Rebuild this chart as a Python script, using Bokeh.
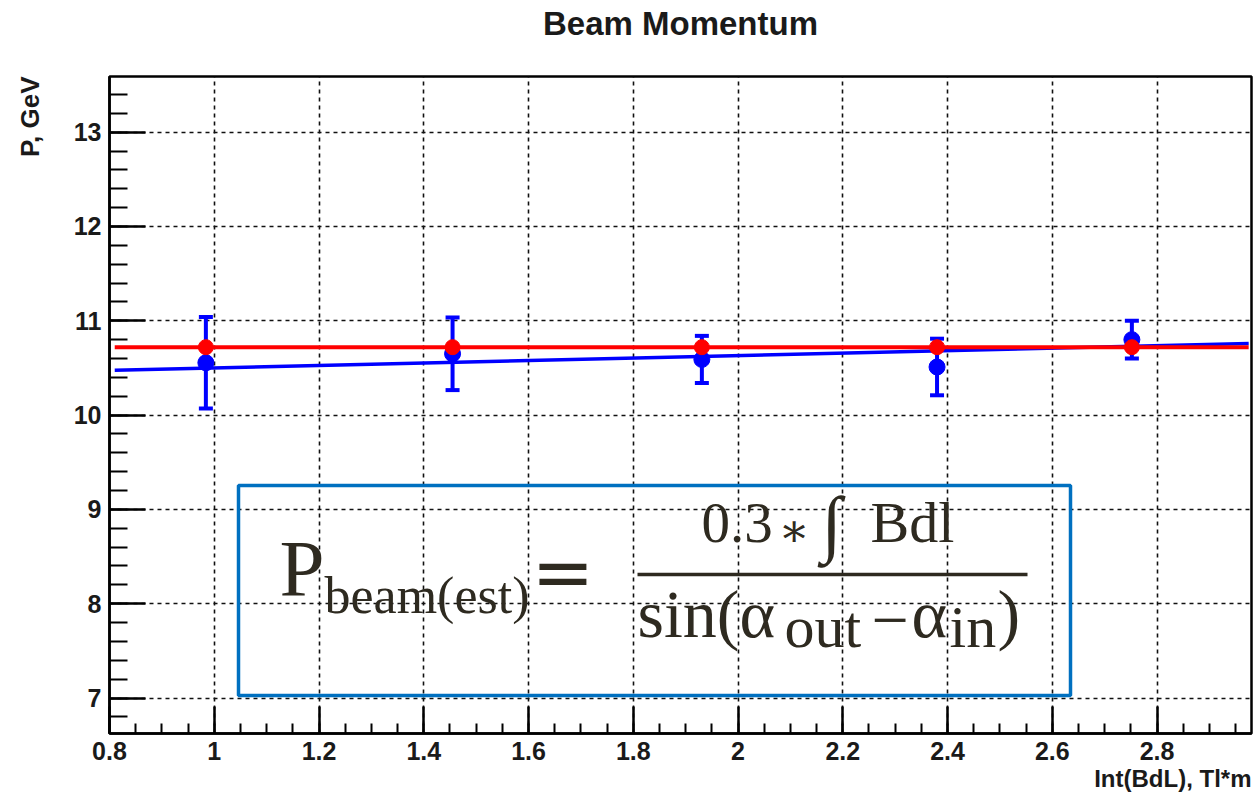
import math
from bokeh.plotting import figure
from bokeh.models import (ColumnDataSource, Label, SingleIntervalTicker, Title,
                          CustomJSTickFormatter, Range1d, BoxAnnotation)
from bokeh.embed import file_html
from bokeh.resources import INLINE

# ---------------- data ----------------
int_bdl = [0.984, 1.455, 1.931, 2.380, 2.752]            # Int(BdL), Tl*m
p_measured = [10.555, 10.65, 10.59, 10.51, 10.80]        # blue points, GeV
p_measured_err = [0.485, 0.385, 0.25, 0.30, 0.20]
p_estimate = [10.72, 10.72, 10.72, 10.72, 10.72]         # red points, GeV
const_fit_x = [0.81, 2.975]                              # red fit line
const_fit_y = [10.72, 10.72]
lin_fit_x = [0.81, 2.975]                                # blue fit line
lin_fit_y = [10.475, 10.76]

x_tick_values = [0.8, 1.0, 1.2, 1.4, 1.6, 1.8, 2.0, 2.2, 2.4, 2.6, 2.8]
x_tick_labels = ["0.8", "1", "1.2", "1.4", "1.6", "1.8", "2", "2.2", "2.4", "2.6", "2.8"]
y_tick_values = [7, 8, 9, 10, 11, 12, 13]
y_tick_labels = ["7", "8", "9", "10", "11", "12", "13"]

# ---------------- layout ----------------
W, H = 1253, 793
FL, FR, FT, FB = 109, 1251, 76, 733
X0, X1 = 0.8, 2.9804
Y0, Y1 = 6.624, 13.59

def dx(px):
    return X0 + (px - FL) / (FR - FL) * (X1 - X0)

def dy(py):
    return Y1 - (py - FT) / (FB - FT) * (Y1 - Y0)

p = figure(width=W, height=H, output_backend="svg", toolbar_location=None,
           x_range=Range1d(X0, X1), y_range=Range1d(Y0, Y1),
           min_border_left=FL, min_border_right=W - FR, min_border_top=FT,
           min_border_bottom=H - FB)
p.background_fill_color = "white"
p.border_fill_color = "white"
p.outline_line_color = "black"
p.outline_line_width = 2.5

TXT = "#1a1a1a"
# main title (outermost in the top panel) + an invisible spacer between it and the frame
p.title.text = "Beam Momentum"
p.title.align = "center"
p.title.text_font = "Liberation Sans"
p.title.text_font_size = "33px"
p.title.text_font_style = "bold"
p.title.text_color = TXT
p.title.standoff = 0
p.add_layout(Title(text=" ", text_font_size="30px", standoff=0), "above")

# axes
p.xaxis.ticker = SingleIntervalTicker(interval=0.2, num_minor_ticks=4)
p.yaxis.ticker = SingleIntervalTicker(interval=1, num_minor_ticks=5)
fmt_code = """
const i = vals.findIndex(v => Math.abs(v - tick) < 1e-6);
return i >= 0 ? labels[i] : '';
"""
p.xaxis.formatter = CustomJSTickFormatter(args=dict(vals=x_tick_values, labels=x_tick_labels), code=fmt_code)
p.yaxis.formatter = CustomJSTickFormatter(args=dict(vals=y_tick_values, labels=y_tick_labels), code=fmt_code)

for ax in (p.xaxis[0], p.yaxis[0]):
    ax.axis_line_width = 2.5
    ax.axis_line_color = "black"
    ax.major_tick_line_width = 2.5
    ax.minor_tick_line_width = 2
    ax.major_tick_line_color = "black"
    ax.minor_tick_line_color = "black"
    ax.major_tick_out = 0
    ax.minor_tick_out = 0
    ax.major_label_text_font = "Liberation Sans"
    ax.major_label_text_font_size = "25px"
    ax.major_label_text_font_style = "bold"
    ax.major_label_text_color = TXT
p.xaxis.major_label_standoff = 8
p.yaxis.major_label_standoff = 8
p.xaxis.major_tick_in = 27
p.xaxis.minor_tick_in = 10
p.yaxis.major_tick_in = 36
p.yaxis.minor_tick_in = 18

for g in (p.xgrid[0], p.ygrid[0]):
    g.grid_line_color = "#111111"
    g.grid_line_width = 1.6
    g.grid_line_dash = "4 4"

# axis titles (outside the frame)
p.add_layout(Title(text="Int(BdL), Tl*m", align="right", text_font="Liberation Sans",
                   text_font_size="24px", text_font_style="bold", text_color=TXT,
                   standoff=0), "below")
p.add_layout(Title(text=" ", text_font_size="20px", standoff=0), "left")
p.add_layout(Title(text="P, GeV", align="right", text_font="Liberation Sans",
                   text_font_size="26px", text_font_style="bold", text_color=TXT,
                   standoff=4), "left")

# ---------------- data glyphs ----------------
upper = [v + e for v, e in zip(p_measured, p_measured_err)]
lower = [v - e for v, e in zip(p_measured, p_measured_err)]
src = ColumnDataSource(dict(x=int_bdl, y=p_measured, upper=upper, lower=lower, est=p_estimate))

BLUE, RED = "#0000FF", "#FF0000"
p.line(lin_fit_x, lin_fit_y, line_color=BLUE, line_width=3.5)
p.segment(x0="x", y0="lower", x1="x", y1="upper", source=src, line_color=BLUE, line_width=4)
p.scatter("x", "upper", source=src, marker="dash", size=14, line_color=BLUE, line_width=4)
p.scatter("x", "lower", source=src, marker="dash", size=14, line_color=BLUE, line_width=4)
p.scatter("x", "y", source=src, size=16, color=BLUE)
p.line(const_fit_x, const_fit_y, line_color=RED, line_width=4)
p.scatter("x", "est", source=src, size=15, color=RED)

# ---------------- formula ----------------
p.add_layout(BoxAnnotation(left=dx(238), right=dx(1070), top=dy(485), bottom=dy(695),
                           fill_alpha=0, line_color="#0070C0", line_alpha=1, line_width=3.5))
FC = "#2e2a20"
SERIF = "Liberation Serif"
SHIFT = 0.35   # rendered alphabetic baseline correction (fraction of font size)

def lab(px, py, text, size, font=SERIF):
    p.add_layout(Label(x=dx(px), y=dy(py - SHIFT * size), text=text, text_font=font,
                       text_font_size=f"{size}px", text_align="left",
                       text_baseline="alphabetic", text_color=FC))

lab(279, 597, "P", 81)
lab(324, 613, "beam(est)", 52)
lab(531, 598, "=", 75, "DejaVu Sans")
lab(701, 542, "0.3", 57)
lab(778, 546, "\u2217", 46, "DejaVu Serif")
lab(821, 548, "\u222b", 74)
lab(870, 542, "Bdl", 58)
p.segment(x0=[dx(637)], y0=[dy(574)], x1=[dx(1027)], y1=[dy(574)], line_color=FC, line_width=3.5)
lab(637, 637, "sin(\u03b1", 68)
lab(784, 647, "out", 60)
lab(871, 643, "\u2212", 66)
lab(911, 637, "\u03b1", 68)
lab(949, 647, "in", 60)
lab(997, 637, ")", 68)

open("out.html", "w").write(file_html(p, INLINE))
